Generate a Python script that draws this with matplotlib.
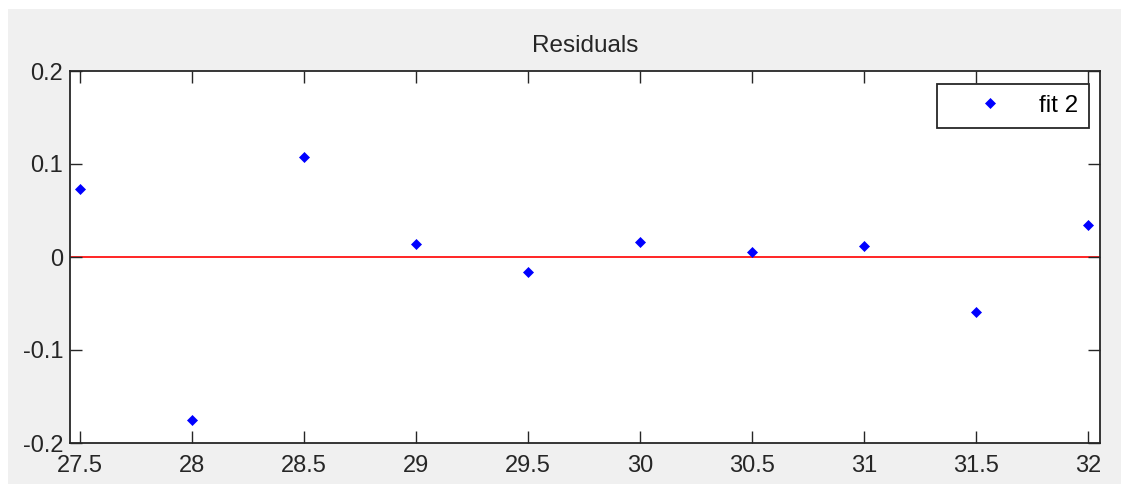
import matplotlib
matplotlib.use("Agg")
import matplotlib.pyplot as plt
from matplotlib.patches import Rectangle

x_values = [27.5, 28.0, 28.5, 29.0, 29.5, 30.0, 30.5, 31.0, 31.5, 32.0]
residuals = [0.073, -0.175, 0.1075, 0.014, -0.016, 0.016, 0.005, 0.012, -0.059, 0.034]
x_ticks = [27.5, 28, 28.5, 29, 29.5, 30, 30.5, 31, 31.5, 32]
x_tick_labels = ["27.5", "28", "28.5", "29", "29.5", "30", "30.5", "31", "31.5", "32"]
y_ticks = [-0.2, -0.1, 0, 0.1, 0.2]
y_tick_labels = ["-0.2", "-0.1", "0", "0.1", "0.2"]
series_label = "fit 2"
title = "Residuals"

plt.rcParams['font.family'] = ['Liberation Sans', 'DejaVu Sans']

W, H = 1121, 484
fig = plt.figure(figsize=(W / 100, H / 100), dpi=100, facecolor="white")
fig.patches.append(Rectangle((8 / W, 0), 1 - 8 / W, 1 - 9 / H, transform=fig.transFigure,
                             facecolor="#f0f0f0", edgecolor="none", zorder=-10))

ax = fig.add_axes([70 / W, (H - 443) / H, 1030 / W, 372 / H])
ax.set_facecolor("white")

ax.axhline(0, color="#ff0000", lw=1.2, zorder=1)
ax.plot(x_values, residuals, linestyle="none", marker="D", ms=5.0, color="#0000ff",
        markeredgewidth=0.5, label=series_label, zorder=3)

ax.set_xlim(27.5 - 10 / 224, 32 + 12 / 224)
ax.set_ylim(-0.2, 0.2)
ax.set_xticks(x_ticks)
ax.set_xticklabels(x_tick_labels)
ax.set_yticks(y_ticks)
ax.set_yticklabels(y_tick_labels)
ax.tick_params(direction="in", length=8.5, width=1.0, top=True, right=True,
               labelsize=17, colors="#262626", pad=5)
ax.tick_params(axis="x", pad=9)
for s in ax.spines.values():
    s.set_linewidth(1.3)
    s.set_color("#262626")

ax.set_title(title, fontsize=17.5, color="#262626", pad=14)

leg = ax.legend(loc="upper right", bbox_to_anchor=(1 - 11 / 1030, 1 - 13 / 372),
                borderaxespad=0, fontsize=17.5, frameon=True, fancybox=False,
                handlelength=3.5, handletextpad=0.25, borderpad=0.45, markerscale=1.0)
leg.get_frame().set_edgecolor("#262626")
leg.get_frame().set_linewidth(1.3)
leg.get_frame().set_facecolor("white")
leg.get_frame().set_alpha(1)

fig.savefig("out.png", dpi=100, facecolor=fig.get_facecolor())
